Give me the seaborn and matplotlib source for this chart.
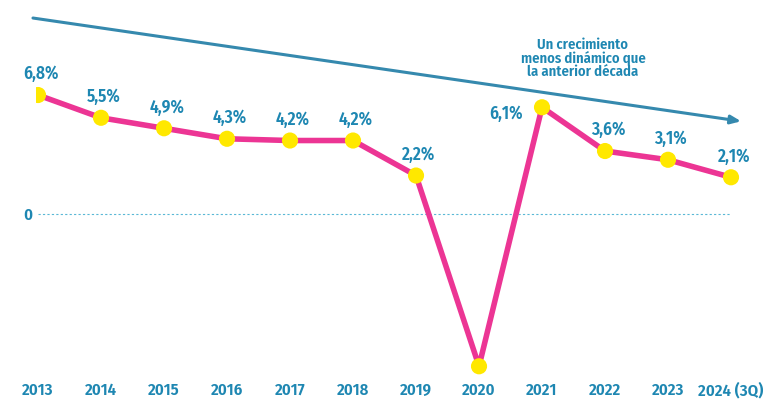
import numpy as np
import pandas as pd
import matplotlib
matplotlib.use('Agg')
import matplotlib.pyplot as plt
import seaborn as sns

years = ['2013', '2014', '2015', '2016', '2017', '2018', '2019', '2020',
         '2021', '2022', '2023', '2024 (3Q)']
growth = [6.8, 5.5, 4.9, 4.3, 4.2, 4.2, 2.2, -8.7, 6.1, 3.6, 3.1, 2.1]
labels = ['6,8%', '5,5%', '4,9%', '4,3%', '4,2%', '4,2%', '2,2%', '',
          '6,1%', '3,6%', '3,1%', '2,1%']
trend_start = 11.2
trend_end = 5.3
note = 'Un crecimiento\nmenos dinámico que\nla anterior década'

PINK = '#EC3594'
YELLOW = '#FFE800'
BLUE = '#1E87B2'
ARROW = '#3589AE'

sns.set_style('white')
plt.rcParams['font.family'] = ['Fira Sans Condensed', 'Roboto Condensed', 'DejaVu Sans']

df = pd.DataFrame({'pos': np.arange(len(years)), 'growth': growth})

fig = plt.figure(figsize=(7.68, 4.17), dpi=100)
ax = fig.add_axes([36 / 768, 39 / 417, 732 / 768, 378 / 417])

# zero reference line
ax.plot([0, len(years) - 1], [0, 0], color='#5BB8D6', lw=0.8, ls=(0, (2, 2)), zorder=1)

# downward trend arrow
ax.annotate('', xy=(11.16, trend_end), xytext=(-0.08, trend_start),
            arrowprops=dict(arrowstyle='-|>,head_length=0.6,head_width=0.25',
                            color=ARROW, lw=2.2, shrinkA=0, shrinkB=0),
            annotation_clip=False, zorder=2)
ax.text(8.65, 8.9, note, ha='center', va='center', color=BLUE,
        fontsize=10.5, fontweight='semibold', linespacing=0.92)

sns.lineplot(data=df, x='pos', y='growth', color=PINK, lw=4, ax=ax, zorder=3)
sns.scatterplot(data=df, x='pos', y='growth', color=YELLOW, s=135,
                edgecolor='none', ax=ax, zorder=4)

for i, (v, lab) in enumerate(zip(growth, labels)):
    if not lab:
        continue
    if i == 8:
        ax.annotate(lab, (i, v), xytext=(-26, -5), textcoords='offset points',
                    ha='center', va='center', color=BLUE, fontsize=12.5, fontweight='semibold')
    else:
        ax.annotate(lab, (i, v), xytext=(2, 15), textcoords='offset points',
                    ha='center', va='center', color=BLUE, fontsize=12.5, fontweight='semibold')

ax.set_xlim(-0.032, 11.587)
ax.set_ylim(-9.37, 12.23)
ax.set_xticks(range(len(years)))
ax.set_xticklabels(years, color=BLUE, fontsize=12, fontweight='semibold')
ax.set_yticks([0])
ax.set_yticklabels(['0'], color=BLUE, fontsize=12, fontweight='semibold')
ax.tick_params(length=0, pad=3)
ax.set_xlabel('')
ax.set_ylabel('')
for s in ax.spines.values():
    s.set_visible(False)

fig.savefig('out.png', dpi=100)
